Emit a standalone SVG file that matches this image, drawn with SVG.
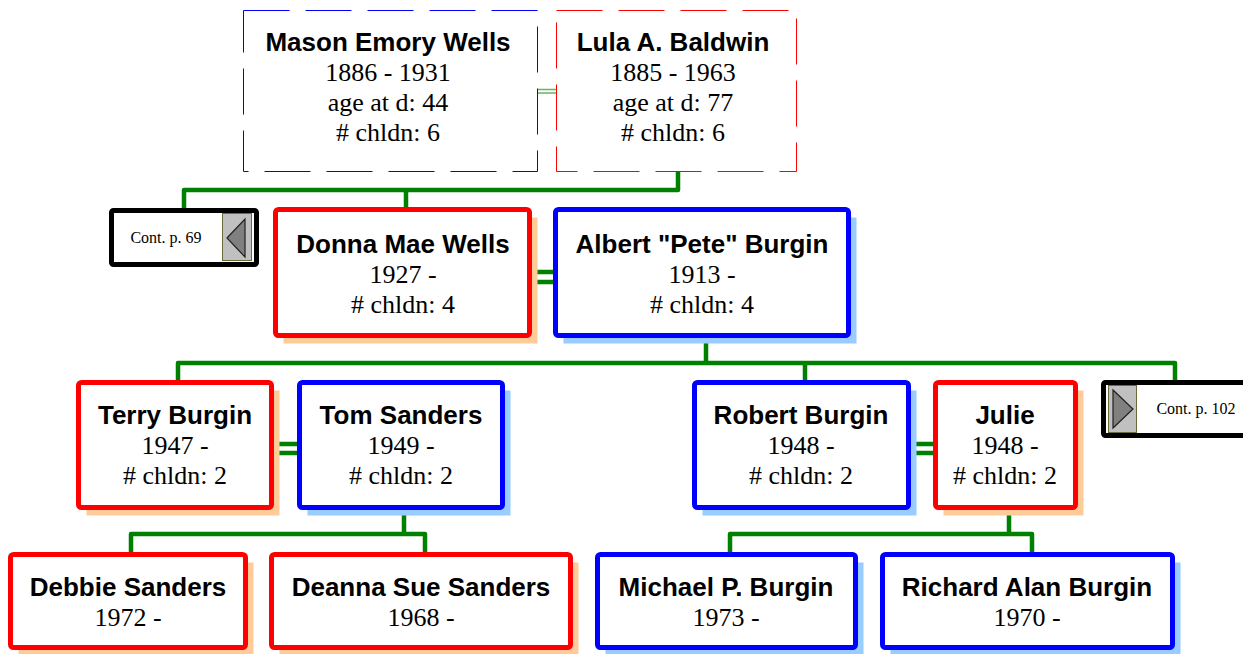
<svg xmlns="http://www.w3.org/2000/svg" width="1243" height="654" viewBox="0 0 1243 654">
<style>
.name{font-family:"Liberation Sans",Arial,sans-serif;font-weight:bold;font-size:26px;text-anchor:middle;fill:#000}
.info{font-family:"Liberation Serif","Times New Roman",serif;font-size:26px;text-anchor:middle;fill:#000}
.cont{font-family:"Liberation Serif","Times New Roman",serif;font-size:16px;text-anchor:middle;fill:#000}
.m{fill:#fff;stroke:#0000ff;stroke-width:5}
.f{fill:#fff;stroke:#ff0000;stroke-width:5}
.ms{fill:#99ccff}
.fs{fill:#ffcc99}
.dm{fill:#fff;stroke:#0000ff;stroke-width:1;stroke-dasharray:46 16}
.df{fill:#fff;stroke:#ff0000;stroke-width:1;stroke-dasharray:46 16}
.line{fill:none;stroke:#008000;stroke-width:4.5;stroke-linejoin:round;stroke-linecap:butt}
.thin{fill:none;stroke:#66b366;stroke-width:1.5}
.cbox{fill:#fff;stroke:#000;stroke-width:5}
.panel{fill:#c0c0c0;stroke:#6b6b3a;stroke-width:1}
.tri{fill:#808080;stroke:#202020;stroke-width:1.2}
</style>
<g id="connectors">
  <line class="thin" x1="538" y1="89.5" x2="556" y2="89.5"/>
  <line class="thin" x1="538" y1="93" x2="556" y2="93"/>
  <path class="line" d="M678 172 V190 H184 V210 M406 190 V210"/>
  <path class="line" d="M532 272 H554 M532 282 H554"/>
  <path class="line" d="M706 338 V363 H178 V381 M805 363 V381 M706 363 H1175 V381"/>
  <path class="line" d="M274 444 H298 M274 453 H298"/>
  <path class="line" d="M911 444 H934 M911 453 H934"/>
  <path class="line" d="M404 510 V534 H131 V553 M404 534 H425 V553"/>
  <path class="line" d="M1009 510 V534 H730 V553 M1009 534 H1032 V553"/>
</g>
<g id="mason">
  <rect class="dm" x="243.5" y="10.5" width="294" height="161"/>
  <text class="name" x="388" y="51">Mason Emory Wells</text>
  <text class="info" x="388" y="81">1886 - 1931</text>
  <text class="info" x="388" y="111">age at d: 44</text>
  <text class="info" x="388" y="141"># chldn: 6</text>
</g>
<g id="lula">
  <rect class="df" x="556.5" y="10.5" width="240" height="161"/>
  <text class="name" x="673" y="51">Lula A. Baldwin</text>
  <text class="info" x="673" y="81">1885 - 1963</text>
  <text class="info" x="673" y="111">age at d: 77</text>
  <text class="info" x="673" y="141"># chldn: 6</text>
</g>
<g id="cont69">
  <rect class="cbox" x="111.5" y="210.5" width="145" height="54" rx="2"/>
  <rect class="panel" x="222.5" y="213.5" width="29" height="47"/>
  <polygon class="tri" points="227,238 245,219 245,257"/>
  <text class="cont" x="166" y="243">Cont. p. 69</text>
</g>
<g id="donna">
  <rect class="fs" x="283.5" y="217.5" width="254" height="126"/>
  <rect class="f" x="275.5" y="209.5" width="254" height="126" rx="3"/>
  <text class="name" x="403" y="253">Donna Mae Wells</text>
  <text class="info" x="403" y="283">1927 -</text>
  <text class="info" x="403" y="313"># chldn: 4</text>
</g>
<g id="albert">
  <rect class="ms" x="563.5" y="217.5" width="293" height="126"/>
  <rect class="m" x="555.5" y="209.5" width="293" height="126" rx="3"/>
  <text class="name" x="702" y="253">Albert "Pete" Burgin</text>
  <text class="info" x="702" y="283">1913 -</text>
  <text class="info" x="702" y="313"># chldn: 4</text>
</g>
<g id="terry">
  <rect class="fs" x="86.5" y="390.5" width="193" height="125"/>
  <rect class="f" x="78.5" y="382.5" width="193" height="125" rx="3"/>
  <text class="name" x="175" y="424">Terry Burgin</text>
  <text class="info" x="175" y="454">1947 -</text>
  <text class="info" x="175" y="484"># chldn: 2</text>
</g>
<g id="tom">
  <rect class="ms" x="307.5" y="390.5" width="203" height="125"/>
  <rect class="m" x="299.5" y="382.5" width="203" height="125" rx="3"/>
  <text class="name" x="401" y="424">Tom Sanders</text>
  <text class="info" x="401" y="454">1949 -</text>
  <text class="info" x="401" y="484"># chldn: 2</text>
</g>
<g id="robert">
  <rect class="ms" x="702.5" y="390.5" width="214" height="125"/>
  <rect class="m" x="694.5" y="382.5" width="214" height="125" rx="3"/>
  <text class="name" x="801" y="424">Robert Burgin</text>
  <text class="info" x="801" y="454">1948 -</text>
  <text class="info" x="801" y="484"># chldn: 2</text>
</g>
<g id="julie">
  <rect class="fs" x="943.5" y="390.5" width="140" height="125"/>
  <rect class="f" x="935.5" y="382.5" width="140" height="125" rx="3"/>
  <text class="name" x="1005" y="424">Julie</text>
  <text class="info" x="1005" y="454">1948 -</text>
  <text class="info" x="1005" y="484"># chldn: 2</text>
</g>
<g id="cont102">
  <rect class="cbox" x="1103.5" y="382.5" width="150" height="53" rx="2"/>
  <rect class="panel" x="1108.5" y="385.5" width="28" height="47"/>
  <polygon class="tri" points="1113,390 1113,428 1133,409"/>
  <text class="cont" x="1196" y="414">Cont. p. 102</text>
</g>
<g id="debbie">
  <rect class="fs" x="18.5" y="562.5" width="235" height="93"/>
  <rect class="f" x="10.5" y="554.5" width="235" height="93" rx="3"/>
  <text class="name" x="128" y="596">Debbie Sanders</text>
  <text class="info" x="128" y="626">1972 -</text>
</g>
<g id="deanna">
  <rect class="fs" x="279.5" y="562.5" width="299" height="93"/>
  <rect class="f" x="271.5" y="554.5" width="299" height="93" rx="3"/>
  <text class="name" x="421" y="596">Deanna Sue Sanders</text>
  <text class="info" x="421" y="626">1968 -</text>
</g>
<g id="michael">
  <rect class="ms" x="605.5" y="562.5" width="258" height="93"/>
  <rect class="m" x="597.5" y="554.5" width="258" height="93" rx="3"/>
  <text class="name" x="726" y="596">Michael P. Burgin</text>
  <text class="info" x="726" y="626">1973 -</text>
</g>
<g id="richard">
  <rect class="ms" x="890.5" y="562.5" width="290" height="93"/>
  <rect class="m" x="882.5" y="554.5" width="290" height="93" rx="3"/>
  <text class="name" x="1027" y="596">Richard Alan Burgin</text>
  <text class="info" x="1027" y="626">1970 -</text>
</g>
</svg>
